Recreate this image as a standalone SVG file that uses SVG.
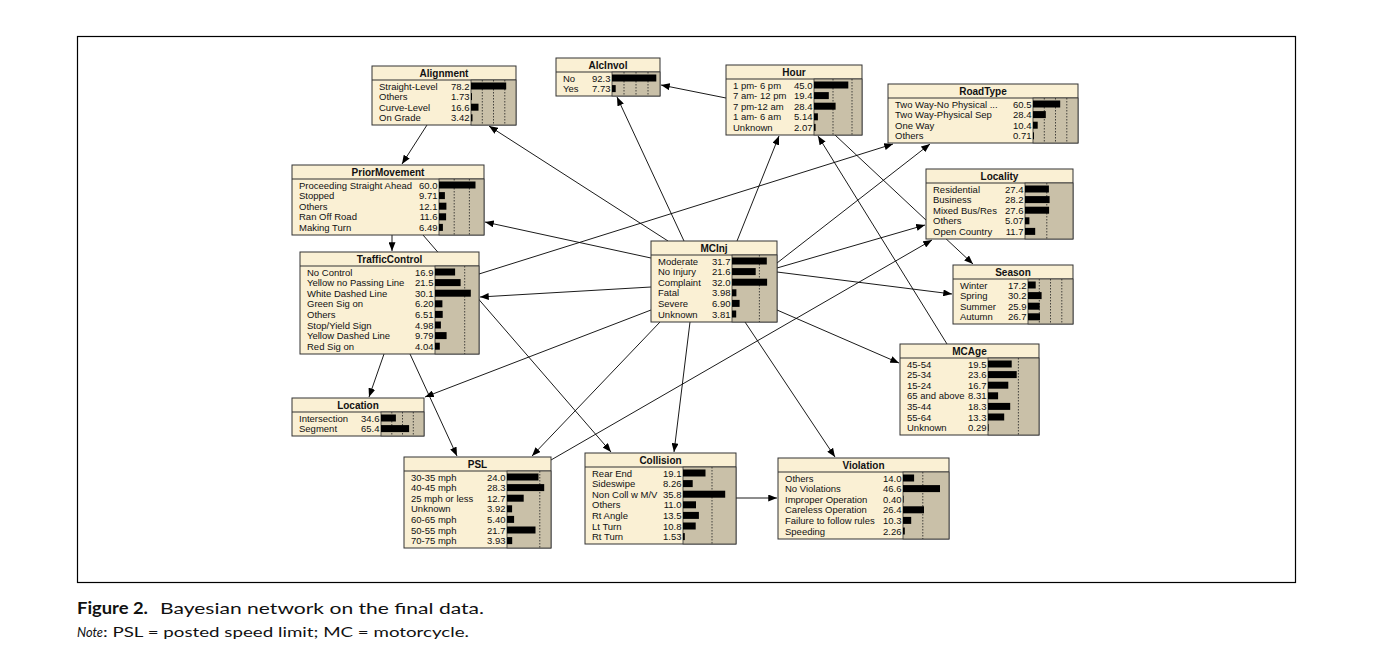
<svg xmlns="http://www.w3.org/2000/svg" width="1374" height="672" viewBox="0 0 1374 672">
<defs>
<marker id="ah" viewBox="0 0 10 8" markerWidth="9" markerHeight="7" refX="10" refY="4" orient="auto" markerUnits="userSpaceOnUse">
<path d="M0,0 L10,4 L0,8 z" fill="#000"/>
</marker>
</defs>
<style>
.box{fill:#faf0d4;stroke:#333;stroke-width:1}
.sep{stroke:#333;stroke-width:1}
.ba{fill:#c9c0a8;stroke:#333;stroke-width:0.8}
.dl{stroke:#222;stroke-width:0.8;stroke-dasharray:1.5,1.5}
.bar{fill:#000}
.ti{font-family:"Liberation Sans",Arial,sans-serif;font-size:10px;font-weight:bold;text-anchor:middle;fill:#111}
.t{font-family:"Liberation Sans",Arial,sans-serif;font-size:9.5px;fill:#111}
.v{font-family:"Liberation Sans",Arial,sans-serif;font-size:9.5px;fill:#111;text-anchor:end}
.ln{stroke:#000;stroke-width:0.9;fill:none;marker-end:url(#ah)}
.cap{font-family:Lato,"Open Sans",sans-serif;fill:#111}
</style>
<rect x="0" y="0" width="1374" height="672" fill="#fff"/>
<rect x="77.5" y="36.5" width="1218" height="546" fill="none" stroke="#000" stroke-width="1.2"/>

<g id="connectors">
<line class="ln" x1="668" y1="241" x2="489" y2="126"/>
<line class="ln" x1="684" y1="241" x2="617" y2="97"/>
<line class="ln" x1="726" y1="98" x2="661" y2="85"/>
<line class="ln" x1="737" y1="241" x2="779" y2="136"/>
<line class="ln" x1="947" y1="344" x2="818" y2="136"/>
<line class="ln" x1="835" y1="135" x2="973" y2="264"/>
<line class="ln" x1="427" y1="125" x2="402" y2="164"/>
<line class="ln" x1="651" y1="258" x2="485" y2="222"/>
<line class="ln" x1="392" y1="235" x2="392" y2="251"/>
<line class="ln" x1="651" y1="287" x2="480" y2="297"/>
<line class="ln" x1="479" y1="274" x2="893" y2="144"/>
<line class="ln" x1="777" y1="263" x2="930" y2="144"/>
<line class="ln" x1="777" y1="268" x2="925" y2="225"/>
<line class="ln" x1="551" y1="460" x2="932" y2="240"/>
<line class="ln" x1="777" y1="272" x2="952" y2="294"/>
<line class="ln" x1="777" y1="310" x2="899" y2="363"/>
<line class="ln" x1="745" y1="322" x2="835" y2="457"/>
<line class="ln" x1="690" y1="322" x2="674" y2="452"/>
<line class="ln" x1="660" y1="322" x2="532" y2="456"/>
<line class="ln" x1="651" y1="310" x2="425" y2="397"/>
<line class="ln" x1="384" y1="354" x2="369" y2="397"/>
<line class="ln" x1="410" y1="354" x2="457" y2="456"/>
<line class="ln" x1="423" y1="235" x2="611" y2="452"/>
<line class="ln" x1="736" y1="498" x2="777" y2="498"/>
</g>

<g id="alignment">
<rect class="box" x="372" y="66" width="144" height="59"/>
<line class="sep" x1="372" y1="80" x2="516" y2="80"/>
<rect class="ba" x="471" y="80" width="45" height="45"/>
<line class="dl" x1="482.3" y1="80" x2="482.3" y2="125"/><line class="dl" x1="493.5" y1="80" x2="493.5" y2="125"/><line class="dl" x1="504.8" y1="80" x2="504.8" y2="125"/>
<text class="ti" x="444" y="77">Alignment</text>
<text class="t" x="379" y="89.5">Straight-Level</text><text class="v" x="469.5" y="89.5">78.2</text><rect class="bar" x="471" y="82.5" width="35.2" height="7"/>
<text class="t" x="379" y="100.1">Others</text><text class="v" x="469.5" y="100.1">1.73</text><rect class="bar" x="471" y="93.1" width="1" height="7"/>
<text class="t" x="379" y="110.7">Curve-Level</text><text class="v" x="469.5" y="110.7">16.6</text><rect class="bar" x="471" y="103.7" width="7.5" height="7"/>
<text class="t" x="379" y="121.3">On Grade</text><text class="v" x="469.5" y="121.3">3.42</text><rect class="bar" x="471" y="114.3" width="1.5" height="7"/>
</g>

<g id="alcinvol">
<rect class="box" x="556" y="58" width="104" height="38"/>
<line class="sep" x1="556" y1="72" x2="660" y2="72"/>
<rect class="ba" x="612" y="72" width="48" height="24"/>
<line class="dl" x1="624" y1="72" x2="624" y2="96"/><line class="dl" x1="636" y1="72" x2="636" y2="96"/><line class="dl" x1="648" y1="72" x2="648" y2="96"/>
<text class="ti" x="608" y="69">AlcInvol</text>
<text class="t" x="563" y="81.5">No</text><text class="v" x="610.5" y="81.5">92.3</text><rect class="bar" x="612" y="74.5" width="44.3" height="7"/>
<text class="t" x="563" y="92.1">Yes</text><text class="v" x="610.5" y="92.1">7.73</text><rect class="bar" x="612" y="85.1" width="3.7" height="7"/>
</g>

<g id="hour">
<rect class="box" x="726" y="65" width="136" height="70"/>
<line class="sep" x1="726" y1="79" x2="862" y2="79"/>
<rect class="ba" x="814" y="79" width="48" height="56"/>
<line class="dl" x1="833" y1="79" x2="833" y2="135"/><line class="dl" x1="852" y1="79" x2="852" y2="135"/>
<text class="ti" x="794" y="76">Hour</text>
<text class="t" x="733" y="88.5">1 pm- 6 pm</text><text class="v" x="812.5" y="88.5">45.0</text><rect class="bar" x="814" y="81.5" width="34.3" height="7"/>
<text class="t" x="733" y="99.1">7 am- 12 pm</text><text class="v" x="812.5" y="99.1">19.4</text><rect class="bar" x="814" y="92.1" width="14.8" height="7"/>
<text class="t" x="733" y="109.7">7 pm-12 am</text><text class="v" x="812.5" y="109.7">28.4</text><rect class="bar" x="814" y="102.7" width="21.6" height="7"/>
<text class="t" x="733" y="120.3">1 am- 6 am</text><text class="v" x="812.5" y="120.3">5.14</text><rect class="bar" x="814" y="113.3" width="3.9" height="7"/>
<text class="t" x="733" y="130.9">Unknown</text><text class="v" x="812.5" y="130.9">2.07</text><rect class="bar" x="814" y="123.9" width="1.6" height="7"/>
</g>

<g id="roadtype">
<rect class="box" x="888" y="84" width="190" height="59"/>
<line class="sep" x1="888" y1="98" x2="1078" y2="98"/>
<rect class="ba" x="1033" y="98" width="45" height="45"/>
<line class="dl" x1="1044.3" y1="98" x2="1044.3" y2="143"/><line class="dl" x1="1055.5" y1="98" x2="1055.5" y2="143"/><line class="dl" x1="1066.8" y1="98" x2="1066.8" y2="143"/>
<text class="ti" x="983" y="95">RoadType</text>
<text class="t" x="895" y="107.5">Two Way-No Physical ...</text><text class="v" x="1031.5" y="107.5">60.5</text><rect class="bar" x="1033" y="100.5" width="27.2" height="7"/>
<text class="t" x="895" y="118.1">Two Way-Physical Sep</text><text class="v" x="1031.5" y="118.1">28.4</text><rect class="bar" x="1033" y="111.1" width="12.8" height="7"/>
<text class="t" x="895" y="128.7">One Way</text><text class="v" x="1031.5" y="128.7">10.4</text><rect class="bar" x="1033" y="121.7" width="4.7" height="7"/>
<text class="t" x="895" y="139.3">Others</text><text class="v" x="1031.5" y="139.3">0.71</text><rect class="bar" x="1033" y="132.3" width="1" height="7"/>
</g>

<g id="priormovement">
<rect class="box" x="292" y="165" width="192" height="70"/>
<line class="sep" x1="292" y1="179" x2="484" y2="179"/>
<rect class="ba" x="439" y="179" width="45" height="56"/>
<line class="dl" x1="454.2" y1="179" x2="454.2" y2="235"/><line class="dl" x1="469.4" y1="179" x2="469.4" y2="235"/>
<text class="ti" x="388" y="176">PriorMovement</text>
<text class="t" x="299" y="188.5">Proceeding Straight Ahead</text><text class="v" x="437.5" y="188.5">60.0</text><rect class="bar" x="439" y="181.5" width="36.5" height="7"/>
<text class="t" x="299" y="199.1">Stopped</text><text class="v" x="437.5" y="199.1">9.71</text><rect class="bar" x="439" y="192.1" width="5.9" height="7"/>
<text class="t" x="299" y="209.7">Others</text><text class="v" x="437.5" y="209.7">12.1</text><rect class="bar" x="439" y="202.7" width="7.4" height="7"/>
<text class="t" x="299" y="220.3">Ran Off Road</text><text class="v" x="437.5" y="220.3">11.6</text><rect class="bar" x="439" y="213.3" width="7.1" height="7"/>
<text class="t" x="299" y="230.9">Making Turn</text><text class="v" x="437.5" y="230.9">6.49</text><rect class="bar" x="439" y="223.9" width="3.9" height="7"/>
</g>

<g id="locality">
<rect class="box" x="926" y="169" width="147" height="70"/>
<line class="sep" x1="926" y1="183" x2="1073" y2="183"/>
<rect class="ba" x="1025" y="183" width="48" height="56"/>
<line class="dl" x1="1046.8" y1="183" x2="1046.8" y2="239"/>
<text class="ti" x="999.5" y="180">Locality</text>
<text class="t" x="933" y="192.5">Residential</text><text class="v" x="1023.5" y="192.5">27.4</text><rect class="bar" x="1025" y="185.5" width="23.9" height="7"/>
<text class="t" x="933" y="203.1">Business</text><text class="v" x="1023.5" y="203.1">28.2</text><rect class="bar" x="1025" y="196.1" width="24.6" height="7"/>
<text class="t" x="933" y="213.7">Mixed Bus/Res</text><text class="v" x="1023.5" y="213.7">27.6</text><rect class="bar" x="1025" y="206.7" width="24.1" height="7"/>
<text class="t" x="933" y="224.3">Others</text><text class="v" x="1023.5" y="224.3">5.07</text><rect class="bar" x="1025" y="217.3" width="4.4" height="7"/>
<text class="t" x="933" y="234.9">Open Country</text><text class="v" x="1023.5" y="234.9">11.7</text><rect class="bar" x="1025" y="227.9" width="10.2" height="7"/>
</g>

<g id="trafficcontrol">
<rect class="box" x="300" y="252" width="179" height="102"/>
<line class="sep" x1="300" y1="266" x2="479" y2="266"/>
<rect class="ba" x="435" y="266" width="44" height="88"/>
<line class="dl" x1="464.7" y1="266" x2="464.7" y2="354"/>
<text class="ti" x="389.5" y="263">TrafficControl</text>
<text class="t" x="307" y="275.5">No Control</text><text class="v" x="433.5" y="275.5">16.9</text><rect class="bar" x="435" y="268.5" width="20.1" height="7"/>
<text class="t" x="307" y="286.1">Yellow no Passing Line</text><text class="v" x="433.5" y="286.1">21.5</text><rect class="bar" x="435" y="279.1" width="25.6" height="7"/>
<text class="t" x="307" y="296.7">White Dashed Line</text><text class="v" x="433.5" y="296.7">30.1</text><rect class="bar" x="435" y="289.7" width="35.8" height="7"/>
<text class="t" x="307" y="307.3">Green Sig on</text><text class="v" x="433.5" y="307.3">6.20</text><rect class="bar" x="435" y="300.3" width="7.4" height="7"/>
<text class="t" x="307" y="317.9">Others</text><text class="v" x="433.5" y="317.9">6.51</text><rect class="bar" x="435" y="310.9" width="7.7" height="7"/>
<text class="t" x="307" y="328.5">Stop/Yield Sign</text><text class="v" x="433.5" y="328.5">4.98</text><rect class="bar" x="435" y="321.5" width="5.9" height="7"/>
<text class="t" x="307" y="339.1">Yellow Dashed Line</text><text class="v" x="433.5" y="339.1">9.79</text><rect class="bar" x="435" y="332.1" width="11.6" height="7"/>
<text class="t" x="307" y="349.7">Red Sig on</text><text class="v" x="433.5" y="349.7">4.04</text><rect class="bar" x="435" y="342.7" width="4.8" height="7"/>
</g>

<g id="mcinj">
<rect class="box" x="651" y="241" width="126" height="81"/>
<line class="sep" x1="651" y1="255" x2="777" y2="255"/>
<rect class="ba" x="732" y="255" width="45" height="67"/>
<line class="dl" x1="759.4" y1="255" x2="759.4" y2="322"/>
<text class="ti" x="714" y="252">MCInj</text>
<text class="t" x="658" y="264.5">Moderate</text><text class="v" x="730.5" y="264.5">31.7</text><rect class="bar" x="732" y="257.5" width="34.8" height="7"/>
<text class="t" x="658" y="275.1">No Injury</text><text class="v" x="730.5" y="275.1">21.6</text><rect class="bar" x="732" y="268.1" width="23.7" height="7"/>
<text class="t" x="658" y="285.7">Complaint</text><text class="v" x="730.5" y="285.7">32.0</text><rect class="bar" x="732" y="278.7" width="35.1" height="7"/>
<text class="t" x="658" y="296.3">Fatal</text><text class="v" x="730.5" y="296.3">3.98</text><rect class="bar" x="732" y="289.3" width="4.4" height="7"/>
<text class="t" x="658" y="306.9">Severe</text><text class="v" x="730.5" y="306.9">6.90</text><rect class="bar" x="732" y="299.9" width="7.6" height="7"/>
<text class="t" x="658" y="317.5">Unknown</text><text class="v" x="730.5" y="317.5">3.81</text><rect class="bar" x="732" y="310.5" width="4.2" height="7"/>
</g>

<g id="season">
<rect class="box" x="953" y="265" width="120" height="59"/>
<line class="sep" x1="953" y1="279" x2="1073" y2="279"/>
<rect class="ba" x="1028" y="279" width="45" height="45"/>
<line class="dl" x1="1039.3" y1="279" x2="1039.3" y2="324"/><line class="dl" x1="1050.5" y1="279" x2="1050.5" y2="324"/><line class="dl" x1="1061.8" y1="279" x2="1061.8" y2="324"/>
<text class="ti" x="1013" y="276">Season</text>
<text class="t" x="960" y="288.5">Winter</text><text class="v" x="1026.5" y="288.5">17.2</text><rect class="bar" x="1028" y="281.5" width="7.7" height="7"/>
<text class="t" x="960" y="299.1">Spring</text><text class="v" x="1026.5" y="299.1">30.2</text><rect class="bar" x="1028" y="292.1" width="13.6" height="7"/>
<text class="t" x="960" y="309.7">Summer</text><text class="v" x="1026.5" y="309.7">25.9</text><rect class="bar" x="1028" y="302.7" width="11.7" height="7"/>
<text class="t" x="960" y="320.3">Autumn</text><text class="v" x="1026.5" y="320.3">26.7</text><rect class="bar" x="1028" y="313.3" width="12" height="7"/>
</g>

<g id="mcage">
<rect class="box" x="900" y="344" width="139" height="91"/>
<line class="sep" x1="900" y1="358" x2="1039" y2="358"/>
<rect class="ba" x="988" y="358" width="51" height="77"/>
<line class="dl" x1="1018.4" y1="358" x2="1018.4" y2="435"/>
<text class="ti" x="969.5" y="355">MCAge</text>
<text class="t" x="907" y="367.5">45-54</text><text class="v" x="986.5" y="367.5">19.5</text><rect class="bar" x="988" y="360.5" width="23.7" height="7"/>
<text class="t" x="907" y="378.1">25-34</text><text class="v" x="986.5" y="378.1">23.6</text><rect class="bar" x="988" y="371.1" width="28.7" height="7"/>
<text class="t" x="907" y="388.7">15-24</text><text class="v" x="986.5" y="388.7">16.7</text><rect class="bar" x="988" y="381.7" width="20.3" height="7"/>
<text class="t" x="907" y="399.3">65 and above</text><text class="v" x="986.5" y="399.3">8.31</text><rect class="bar" x="988" y="392.3" width="10.1" height="7"/>
<text class="t" x="907" y="409.9">35-44</text><text class="v" x="986.5" y="409.9">18.3</text><rect class="bar" x="988" y="402.9" width="22.2" height="7"/>
<text class="t" x="907" y="420.5">55-64</text><text class="v" x="986.5" y="420.5">13.3</text><rect class="bar" x="988" y="413.5" width="16.2" height="7"/>
<text class="t" x="907" y="431.1">Unknown</text><text class="v" x="986.5" y="431.1">0.29</text><rect class="bar" x="988" y="424.1" width="0.6" height="7"/>
</g>

<g id="location">
<rect class="box" x="292" y="398" width="132" height="38"/>
<line class="sep" x1="292" y1="412" x2="424" y2="412"/>
<rect class="ba" x="381" y="412" width="43" height="24"/>
<line class="dl" x1="391.8" y1="412" x2="391.8" y2="436"/><line class="dl" x1="402.5" y1="412" x2="402.5" y2="436"/><line class="dl" x1="413.3" y1="412" x2="413.3" y2="436"/>
<text class="ti" x="358" y="409">Location</text>
<text class="t" x="299" y="421.5">Intersection</text><text class="v" x="379.5" y="421.5">34.6</text><rect class="bar" x="381" y="414.5" width="14.9" height="7"/>
<text class="t" x="299" y="432.1">Segment</text><text class="v" x="379.5" y="432.1">65.4</text><rect class="bar" x="381" y="425.1" width="28.1" height="7"/>
</g>

<g id="psl">
<rect class="box" x="404" y="457" width="147" height="91"/>
<line class="sep" x1="404" y1="471" x2="551" y2="471"/>
<rect class="ba" x="507" y="471" width="44" height="77"/>
<line class="dl" x1="539.8" y1="471" x2="539.8" y2="548"/>
<text class="ti" x="477.5" y="468">PSL</text>
<text class="t" x="411" y="480.5">30-35 mph</text><text class="v" x="505.5" y="480.5">24.0</text><rect class="bar" x="507" y="473.5" width="31.5" height="7"/>
<text class="t" x="411" y="491.1">40-45 mph</text><text class="v" x="505.5" y="491.1">28.3</text><rect class="bar" x="507" y="484.1" width="37.2" height="7"/>
<text class="t" x="411" y="501.7">25 mph or less</text><text class="v" x="505.5" y="501.7">12.7</text><rect class="bar" x="507" y="494.7" width="16.7" height="7"/>
<text class="t" x="411" y="512.3">Unknown</text><text class="v" x="505.5" y="512.3">3.92</text><rect class="bar" x="507" y="505.3" width="5.1" height="7"/>
<text class="t" x="411" y="522.9">60-65 mph</text><text class="v" x="505.5" y="522.9">5.40</text><rect class="bar" x="507" y="515.9" width="7.1" height="7"/>
<text class="t" x="411" y="533.5">50-55 mph</text><text class="v" x="505.5" y="533.5">21.7</text><rect class="bar" x="507" y="526.5" width="28.5" height="7"/>
<text class="t" x="411" y="544.1">70-75 mph</text><text class="v" x="505.5" y="544.1">3.93</text><rect class="bar" x="507" y="537.1" width="5.2" height="7"/>
</g>

<g id="collision">
<rect class="box" x="585" y="453" width="151" height="91"/>
<line class="sep" x1="585" y1="467" x2="736" y2="467"/>
<rect class="ba" x="683" y="467" width="53" height="77"/>
<line class="dl" x1="712" y1="467" x2="712" y2="544"/>
<text class="ti" x="660.5" y="464">Collision</text>
<text class="t" x="592" y="476.5">Rear End</text><text class="v" x="681.5" y="476.5">19.1</text><rect class="bar" x="683" y="469.5" width="22.5" height="7"/>
<text class="t" x="592" y="487.1">Sideswipe</text><text class="v" x="681.5" y="487.1">8.26</text><rect class="bar" x="683" y="480.1" width="9.7" height="7"/>
<text class="t" x="592" y="497.7">Non Coll w M/V</text><text class="v" x="681.5" y="497.7">35.8</text><rect class="bar" x="683" y="490.7" width="42.2" height="7"/>
<text class="t" x="592" y="508.3">Others</text><text class="v" x="681.5" y="508.3">11.0</text><rect class="bar" x="683" y="501.3" width="13" height="7"/>
<text class="t" x="592" y="518.9">Rt Angle</text><text class="v" x="681.5" y="518.9">13.5</text><rect class="bar" x="683" y="511.9" width="15.9" height="7"/>
<text class="t" x="592" y="529.5">Lt Turn</text><text class="v" x="681.5" y="529.5">10.8</text><rect class="bar" x="683" y="522.5" width="12.7" height="7"/>
<text class="t" x="592" y="540.1">Rt Turn</text><text class="v" x="681.5" y="540.1">1.53</text><rect class="bar" x="683" y="533.1" width="1.8" height="7"/>
</g>

<g id="violation">
<rect class="box" x="778" y="458" width="171" height="81"/>
<line class="sep" x1="778" y1="472" x2="949" y2="472"/>
<rect class="ba" x="903" y="472" width="46" height="67"/>
<line class="dl" x1="922.8" y1="472" x2="922.8" y2="539"/>
<text class="ti" x="863.5" y="469">Violation</text>
<text class="t" x="785" y="481.5">Others</text><text class="v" x="901.5" y="481.5">14.0</text><rect class="bar" x="903" y="474.5" width="11.1" height="7"/>
<text class="t" x="785" y="492.1">No Violations</text><text class="v" x="901.5" y="492.1">46.6</text><rect class="bar" x="903" y="485.1" width="37" height="7"/>
<text class="t" x="785" y="502.7">Improper Operation</text><text class="v" x="901.5" y="502.7">0.40</text><rect class="bar" x="903" y="495.7" width="0.6" height="7"/>
<text class="t" x="785" y="513.3">Careless Operation</text><text class="v" x="901.5" y="513.3">26.4</text><rect class="bar" x="903" y="506.3" width="21" height="7"/>
<text class="t" x="785" y="523.9">Failure to follow rules</text><text class="v" x="901.5" y="523.9">10.3</text><rect class="bar" x="903" y="516.9" width="8.2" height="7"/>
<text class="t" x="785" y="534.5">Speeding</text><text class="v" x="901.5" y="534.5">2.26</text><rect class="bar" x="903" y="527.5" width="1.8" height="7"/>
</g>

<g id="caption">
<text class="cap" x="77" y="614" font-size="17" font-weight="bold" textLength="71" lengthAdjust="spacingAndGlyphs">Figure 2.</text>
<text class="cap" x="160" y="614" font-size="16" textLength="324" lengthAdjust="spacingAndGlyphs">Bayesian network on the final data.</text>
<text class="cap" x="77" y="637" font-size="14" font-style="italic" textLength="26" lengthAdjust="spacingAndGlyphs">Note</text>
<text class="cap" x="103" y="637" font-size="14" textLength="366" lengthAdjust="spacingAndGlyphs">: PSL = posted speed limit; MC = motorcycle.</text>
</g>
</svg>
